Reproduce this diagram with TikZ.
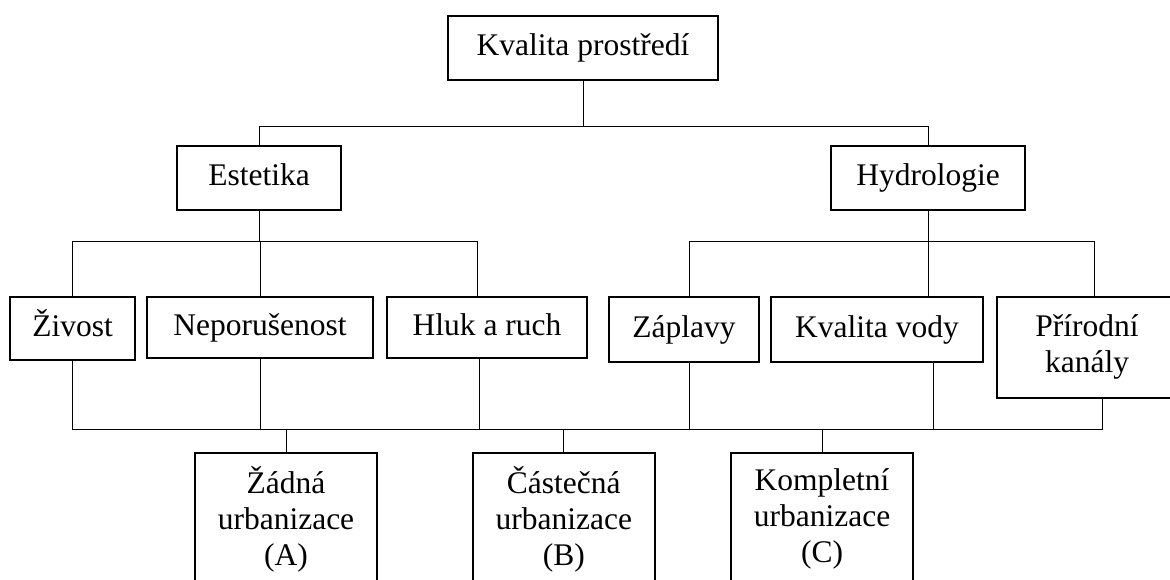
\documentclass[tikz,border=0pt]{standalone}
\usepackage{fontspec}
\setmainfont{Liberation Serif}
\usetikzlibrary{calc}
\tikzset{
  box/.style={draw, line width=2pt, inner sep=0pt, align=center,
    font=\fontsize{31.5}{36}\selectfont},
  oneline/.style={text height=22pt, text depth=6pt},
  wire/.style={line width=1pt},
  urb/.style={box, minimum width=182, minimum height=132, anchor=north},
}
\begin{document}
\begin{tikzpicture}[x=1pt,y=-1pt]
\useasboundingbox (0,0) rectangle (1170,580);
\clip (0,0) rectangle (1170,580);

% root and the two main groups
\node[box,oneline,minimum width=270,minimum height=64] (kp) at (583,48) {Kvalita prostředí};
\node[box,oneline,minimum width=164,minimum height=64] (est) at (259,178) {Estetika};
\node[box,oneline,minimum width=194,minimum height=64] (hyd) at (928,178) {Hydrologie};

% criteria
\node[box,oneline,minimum width=125,minimum height=63] (ziv) at (72.7,328.5) {Živost};
\node[box,oneline,minimum width=226,minimum height=61] (nep) at (260,327.5) {Neporušenost};
\node[box,oneline,minimum width=200.5,minimum height=61] (hluk) at (487,327.5) {Hluk a ruch};
\node[box,oneline,minimum width=150.4,minimum height=64.7] (zap) at (684,329.3) {Záplavy};
\node[box,oneline,minimum width=212.7,minimum height=64.7] (kvo) at (877,329.3) {Kvalita vody};
\node[box,minimum width=180,minimum height=100.7] (pk) at (1087,347.3) {Přírodní\\kanály};

% alternatives
\node[urb] (ua) at (286,452) {Žádná\\urbanizace\\(A)};
\node[urb] (ub) at (563.8,452) {Částečná\\urbanizace\\(B)};
\node[urb] (uc) at (822,452) {Kompletní\\urbanizace\\(C)};

% bus levels
\coordinate (bus1) at (0,127);
\coordinate (bus2) at (0,242);
\coordinate (bus3) at (0,429);

% attachment points that sit off the box centres
\coordinate (hlukin) at ($(hluk.north)+(-9.5,0)$);
\coordinate (zapin) at ($(zap.north)+(5,0)$);
\coordinate (kvoin) at (hyd.south |- kvo.north);
\coordinate (pkin) at ($(pk.north)+(7,0)$);
\coordinate (hlukout) at ($(hluk.south)+(-8,0)$);
\coordinate (zapout) at ($(zap.south)+(5,0)$);
\coordinate (kvoout) at ($(kvo.south)+(56,0)$);
\coordinate (pkout) at ($(pk.south)+(15,0)$);

% level 1
\draw[wire] (kp.south) -- (kp.south |- bus1);
\draw[wire] (est.north) -- (est.north |- bus1) -| (hyd.north);

% level 2
\draw[wire] (est.south) -- (est.south |- bus2);
\draw[wire] (ziv.north) |- (hlukin |- bus2) -- (hlukin);
\draw[wire] (nep.north) -- (nep.north |- bus2);
\draw[wire] (hyd.south) -- (hyd.south |- bus2);
\draw[wire] (zapin) |- (pkin |- bus2) -- (pkin);
\draw[wire] (kvoin) -- (kvoin |- bus2);

% level 3
\draw[wire] (ziv.south) |- (pkout |- bus3) -- (pkout);
\draw[wire] (nep.south) -- (nep.south |- bus3);
\draw[wire] (hlukout) -- (hlukout |- bus3);
\draw[wire] (zapout) -- (zapout |- bus3);
\draw[wire] (kvoout) -- (kvoout |- bus3);
\draw[wire] (ua.north) -- (ua.north |- bus3);
\draw[wire] (ub.north) -- (ub.north |- bus3);
\draw[wire] (uc.north) -- (uc.north |- bus3);
\end{tikzpicture}
\end{document}
